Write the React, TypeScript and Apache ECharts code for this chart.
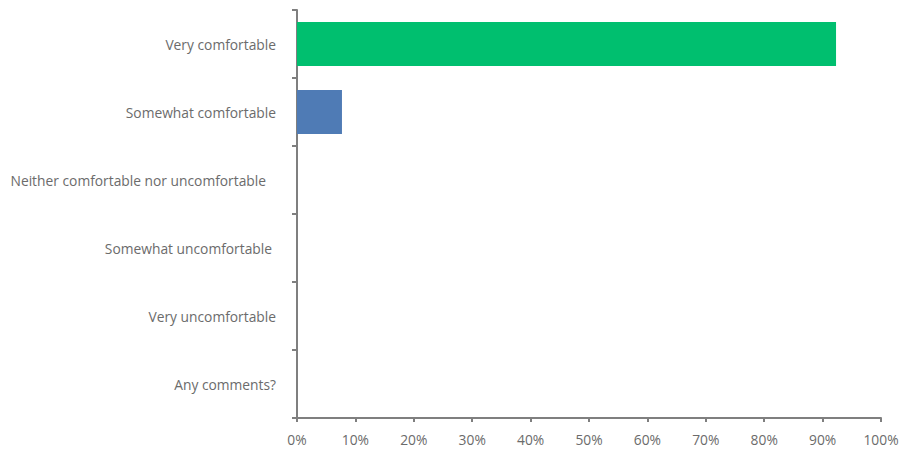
import React, { useEffect, useRef } from "react";
import * as echarts from "echarts";

const categories = [
  "Very comfortable",
  "Somewhat comfortable",
  "Neither comfortable nor uncomfortable",
  "Somewhat uncomfortable",
  "Very uncomfortable",
  "Any comments?",
];
const values = [92.3, 7.7, 0, 0, 0, 0];
const barColors = ["#00BF6F", "#4F7BB5", "#4F7BB5", "#4F7BB5", "#4F7BB5", "#4F7BB5"];
const labelRightPad = [0, 0, 10, 4, 0, 0];

export default function App() {
  const ref = useRef<HTMLDivElement>(null);
  useEffect(() => {
    if (!ref.current) return;
    const chart = echarts.init(ref.current, null, { renderer: "svg" });
    chart.setOption({
      animation: false,
      grid: { left: 297, right: 21, top: 10, bottom: 35, containLabel: false },
      xAxis: {
        type: "value",
        min: 0,
        max: 100,
        interval: 10,
        splitLine: { show: false },
        axisLine: { show: true, lineStyle: { color: "#7F7F7F", width: 2 } },
        axisTick: { show: true, length: 4, lineStyle: { color: "#7F7F7F", width: 2 } },
        axisLabel: {
          formatter: "{value}%",
          color: "#6B6B6B",
          fontFamily: "Open Sans",
          fontSize: 13.8,
          margin: 14,
        },
      },
      yAxis: {
        type: "category",
        data: categories.map((c, i) => ({
          value: c,
          textStyle: { padding: [0, labelRightPad[i], 0, 0] },
        })),
        inverse: true,
        axisLine: { show: true, lineStyle: { color: "#7F7F7F", width: 2 } },
        axisTick: { show: true, length: 5, lineStyle: { color: "#7F7F7F", width: 2 } },
        axisLabel: {
          color: "#6B6B6B",
          fontFamily: "Open Sans",
          fontSize: 13.8,
          margin: 21,
        },
      },
      series: [
        {
          type: "bar",
          data: values.map((v, i) => ({ value: v, itemStyle: { color: barColors[i] } })),
          barCategoryGap: "35%",
        },
      ],
    });
    return () => chart.dispose();
  }, []);
  return (
    <div
      ref={ref}
      style={{ position: "fixed", left: 0, top: 0, width: 902, height: 453, background: "#fff" }}
    />
  );
}
